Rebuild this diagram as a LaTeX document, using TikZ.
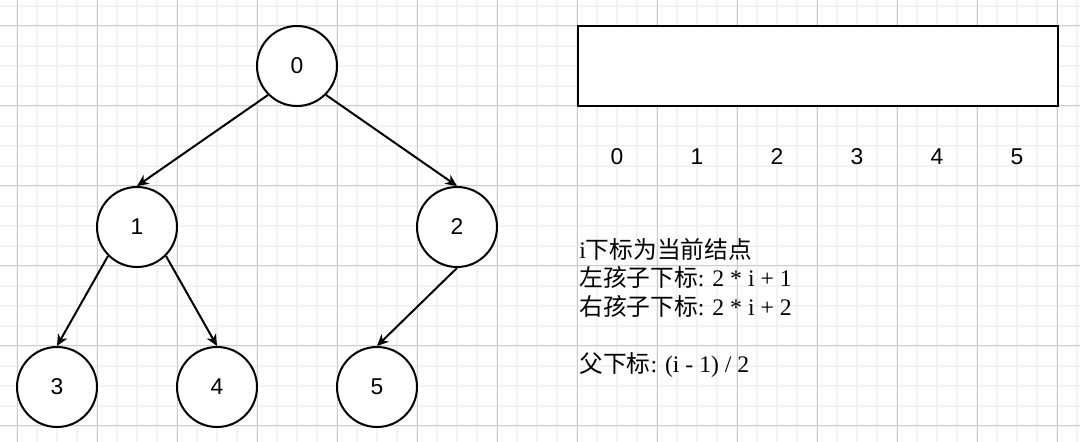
\documentclass[tikz,border=0pt]{standalone}
\usepackage{fontspec}
\setmainfont{Liberation Serif}
\newfontfamily\helv{Liberation Sans}
\newfontfamily\cjk{Noto Sans CJK SC}
\usetikzlibrary{arrows.meta}
\newcommand{\zh}[1]{{\cjk\fontsize{13.5}{16.2}\selectfont #1}}

\begin{document}
\begin{tikzpicture}[
    x=0.02cm, y=-0.02cm,
    >={Stealth[length=0.23cm, width=0.21cm, inset=0.07cm]},
    minor/.style={draw=black!5, line width=0.03cm},
    major/.style={draw=black!20, line width=0.02cm},
    vertex/.style={
        circle, draw=black, fill=white, line width=0.04cm,
        minimum size=1.6cm, inner sep=0pt,
        font=\helv\fontsize{13}{15}\selectfont
    },
    index/.style={font=\helv\fontsize{13}{15}\selectfont, inner sep=0pt},
    edge/.style={->, line width=0.04cm, black},
    note/.style={font=\fontsize{13.5}{16.2}\selectfont, align=left,
        anchor=north west, inner sep=0pt},
]

\useasboundingbox (0,0) rectangle (1080,442);

% ── Background grid ──
\fill[white] (0,0) rectangle (1080,442);
\foreach \x in {17,37,...,1077}
    \draw[minor] (\x,0) -- (\x,442);
\foreach \y in {6,26,...,436}
    \draw[minor] (0,\y) -- (1080,\y);
\foreach \x in {17,97,...,1057}
    \draw[major] (\x,0) -- (\x,442);
\foreach \y in {26,106,...,426}
    \draw[major] (0,\y) -- (1080,\y);

% ── Tree ──
\node[vertex] (n0) at (297, 66) {0};
\node[vertex] (n1) at (137,227) {1};
\node[vertex] (n2) at (457,227) {2};
\node[vertex] (n3) at ( 57,387) {3};
\node[vertex] (n4) at (217,387) {4};
\node[vertex] (n5) at (377,387) {5};

\draw[edge] (n0.225) -- (n1.north);
\draw[edge] (n0.-45) -- (n2.north);
\draw[edge] (n1.225) -- (n3.north);
\draw[edge] (n1.-45) -- (n4.north);
\draw[edge] (n2.south) -- (n5.north);

% ── Array ──
\node[draw=black, fill=white, line width=0.04cm,
      minimum width=9.6cm, minimum height=1.6cm, inner sep=0pt]
    (heap) at (818,66) {};

\foreach \i in {0,...,5}
    \node[index] (idx\i) at (617+80*\i,157) {\i};

% ── Index rules ──
\node[note] (rules) at (579,238)
    {i\zh{下标为当前结点}\\
     \zh{左孩子下标}: 2 * i + 1\\
     \zh{右孩子下标}: 2 * i + 2\\[16.2pt]
     \zh{父下标}: (i - 1) / 2};

\end{tikzpicture}
\end{document}
